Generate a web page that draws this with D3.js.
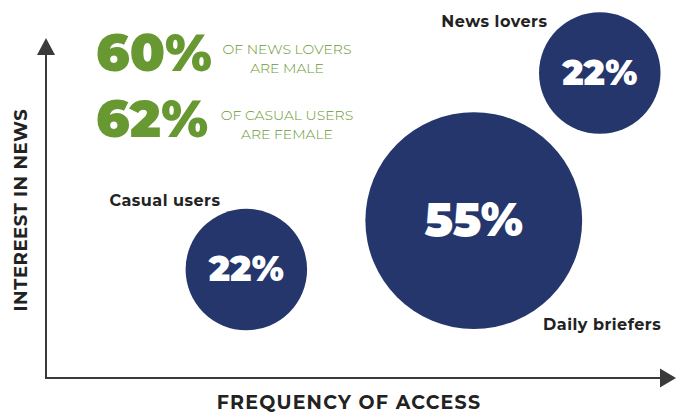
<!DOCTYPE html>
<html><head><meta charset="utf-8">
<script src="https://cdn.jsdelivr.net/npm/d3@7"></script>
<style>html,body{margin:0;padding:0;background:#fff;}svg{display:block;}</style>
</head><body>
<svg id="c" width="683" height="413"></svg>
<script>
// Data
const segments = ["Casual users", "Daily briefers", "News lovers"];
const shares = [22, 55, 22];
const frequency = [31.8, 67.9, 87.9];   // position along "frequency of access" (0-100)
const interest = [31.9, 46.3, 89.7];    // position along "interest in news" (0-100)
const statValues = ["60%", "62%"];
const statLine1 = ["OF NEWS LOVERS", "OF CASUAL USERS"];
const statLine2 = ["ARE MALE", "ARE FEMALE"];
const xAxisTitle = "FREQUENCY OF ACCESS";
const yAxisTitle = "INTEREEST IN NEWS";

// label placement (style): offset from bubble centre, anchor
const labelPlacement = {
  "Casual users": { dx: -25.8, dy: -63.7, anchor: "end" },
  "Daily briefers": { dx: 69.3, dy: 109.3, anchor: "start" },
  "News lovers": { dx: -52.3, dy: -46, anchor: "end" }
};

const svg = d3.select("#c");
const x = d3.scaleLinear().domain([0, 100]).range([46, 676]);
const y = d3.scaleLinear().domain([0, 100]).range([378, 38]);
const r = d3.scalePow().exponent(0.632).domain([0, 55]).range([0, 108.4]);
const fs = d3.scaleLinear().domain([22, 55]).range([35, 46]);

const navy = "#24366b", green = "#689831", axisCol = "#3a3a3a", dark = "#222";
const font = "Montserrat, Inter, 'DejaVu Sans', sans-serif";

// axes
svg.append("line").attr("x1", x(0)).attr("y1", y(0)).attr("x2", x(0)).attr("y2", y(100) + 15)
  .attr("stroke", axisCol).attr("stroke-width", 2);
svg.append("line").attr("x1", x(0) - 1).attr("y1", y(0)).attr("x2", x(100) - 15).attr("y2", y(0))
  .attr("stroke", axisCol).attr("stroke-width", 2);
svg.append("path").attr("d", `M${x(0)},${y(100)} L${x(0) - 9},${y(100) + 17} L${x(0) + 9},${y(100) + 17}Z`).attr("fill", axisCol);
svg.append("path").attr("d", `M${x(100)},${y(0)} L${x(100) - 16},${y(0) - 9.5} L${x(100) - 16},${y(0) + 9.5}Z`).attr("fill", axisCol);

svg.append("text").attr("x", 349).attr("y", 409).attr("text-anchor", "middle")
  .attr("font-family", font).attr("font-weight", 700).attr("letter-spacing", 1.2)
  .attr("font-size", 19).attr("fill", dark).text(xAxisTitle);
svg.append("text").attr("transform", "translate(27,210) rotate(-90)").attr("text-anchor", "middle")
  .attr("font-family", font).attr("font-weight", 700).attr("letter-spacing", 0.6)
  .attr("font-size", 18).attr("fill", dark).text(yAxisTitle);

// bubbles
const data = segments.map((s, i) => ({ s, v: shares[i], fx: frequency[i], iy: interest[i] }));
const g = svg.selectAll("g.b").data(data).join("g").attr("class", "b");
g.append("circle").attr("cx", d => x(d.fx)).attr("cy", d => y(d.iy)).attr("r", d => r(d.v)).attr("fill", navy);
g.append("text").attr("x", d => x(d.fx)).attr("y", d => y(d.iy) + fs(d.v) * 0.33)
  .attr("text-anchor", "middle").attr("fill", "#fff")
  .attr("font-family", font).attr("font-weight", 900)
  .attr("font-size", d => fs(d.v)).text(d => d.v + "%");
g.append("text")
  .attr("x", d => x(d.fx) + labelPlacement[d.s].dx)
  .attr("y", d => y(d.iy) + labelPlacement[d.s].dy)
  .attr("text-anchor", d => labelPlacement[d.s].anchor)
  .attr("font-family", font).attr("font-weight", 700).attr("letter-spacing", 0.5)
  .attr("font-size", 16).attr("fill", dark).text(d => d.s);

// stats
const st = svg.selectAll("g.st").data(statValues).join("g").attr("class", "st")
  .attr("transform", (d, i) => `translate(0,${i * 66})`);
st.append("text").attr("x", 96).attr("y", 70.5).attr("fill", green)
  .attr("font-family", font).attr("font-weight", 900)
  .attr("font-size", 51).text(d => d);
st.append("text").attr("x", 287).attr("y", 54).attr("text-anchor", "middle").attr("fill", green)
  .attr("font-family", font).attr("font-weight", 300)
  .attr("font-size", 14).text((d, i) => statLine1[i]);
st.append("text").attr("x", 287).attr("y", 72.5).attr("text-anchor", "middle").attr("fill", green)
  .attr("font-family", font).attr("font-weight", 300)
  .attr("font-size", 14).text((d, i) => statLine2[i]);
</script>
</body></html>
